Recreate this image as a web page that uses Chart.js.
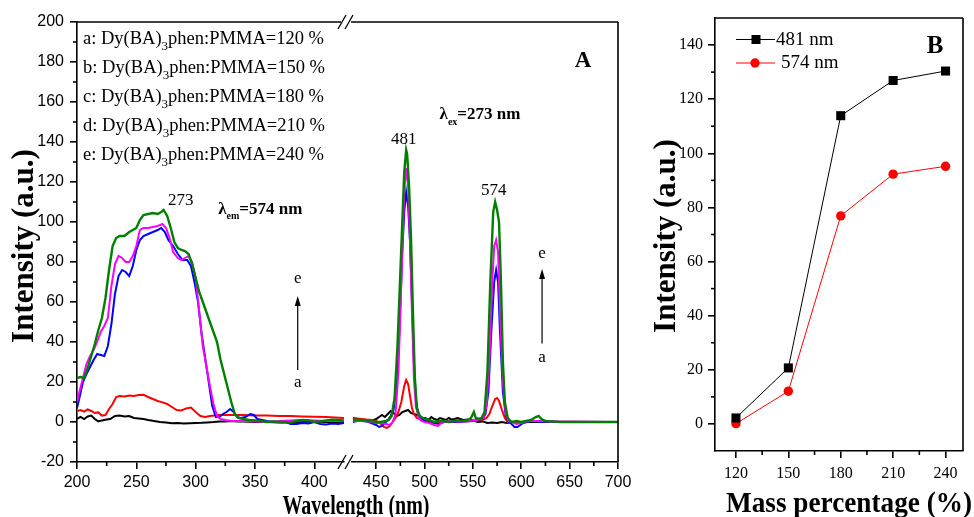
<!DOCTYPE html>
<html>
<head>
<meta charset="utf-8">
<script src="https://cdn.jsdelivr.net/npm/chart.js@4.4.0/dist/chart.umd.min.js"></script>
<style>
  html, body { margin: 0; padding: 0; background: #fff; }
  #wrap { position: relative; width: 974px; height: 517px; overflow: hidden; }
  canvas { position: absolute; top: 0; }
</style>
</head>
<body>
<div id="wrap">
  <canvas id="exc" width="640" height="517" style="left:0"></canvas>
  <canvas id="emi" width="300" height="517" style="left:340px"></canvas>
  <canvas id="mass" width="334" height="517" style="left:640px"></canvas>
</div>
<script>
// excitation spectra (λem = 574 nm), [wavelength nm, intensity a.u.]
const excA = [[200,1.5],[203,2.5],[206,1.5],[209,2.8],[212,3.2],[215,1.5],[218,0.3],[221,0.8],[225,1.2],[228,1.5],[232,3],[236,3.2],[240,2.8],[244,3],[248,2],[252,1.8],[256,1.5],[260,1],[265,0.5],[270,0],[275,-0.3],[280,-0.6],[285,-0.5],[290,-0.8],[295,-0.6],[300,-0.5],[305,-0.4],[310,-0.2],[315,0],[320,0.3],[325,0.2],[330,0.5],[335,0.3],[340,0.2],[350,0],[360,0],[370,-0.2],[380,-0.3],[390,0],[400,0.2],[410,0],[425,0]];
const excB = [[200,5.5],[203,6],[206,5.2],[209,6.3],[212,5.5],[215,4.5],[218,4.8],[221,3.2],[224,3.5],[227,6.5],[230,9],[233,12.5],[236,13],[240,12.8],[244,13.3],[248,13],[252,13.5],[256,13.6],[260,12.5],[264,11.5],[268,10.5],[272,9.8],[276,9],[280,7.5],[284,6],[288,5.8],[292,6.8],[296,7.2],[300,5],[304,3],[308,2.5],[312,3],[320,3.5],[330,3.5],[340,3.5],[350,3.3],[360,3.2],[370,3],[380,3],[390,2.8],[400,2.6],[410,2.5],[425,2]];
const excC = [[200,7],[202,12],[205,20],[208,24],[211,27.5],[214,31],[217,34],[220,33.5],[223,33],[226,38],[229,49],[232,64],[235,73],[238,76],[241,75],[244,73],[247,78],[250,86],[253,91],[256,93],[260,94],[264,95],[268,96],[271,97],[274,95],[277,91],[281,88],[285,84],[289,81],[293,81],[296,78],[299,70],[302,60],[305,44],[308,32],[311,20],[314,8],[317,2.5],[320,2.5],[323,4],[326,5],[329,6.5],[332,5],[335,2.5],[338,2],[342,2.5],[346,4],[349,3.5],[352,1.5],[356,1],[360,0.5],[365,0],[370,0],[375,0.3],[380,-1],[385,-1],[390,-0.5],[395,-0.8],[400,0],[405,-1],[410,-1.2],[415,-0.8],[420,-1],[425,-0.5]];
const excD = [[200,10],[202,15],[205,22],[208,29],[211,33],[214,36],[217,40],[220,45],[223,48],[226,52],[229,68],[232,79],[235,83],[238,82],[241,80],[244,80],[247,83],[250,88],[253,96],[256,97],[260,97],[264,97.5],[268,98],[272,99],[275,97],[278,92],[281,85],[285,82],[288,81],[291,82],[294,83],[297,80],[300,72],[303,55],[306,38],[309,28],[312,18],[315,9],[318,3],[321,1.5],[325,1],[330,0.5],[340,0.5],[350,0.2],[360,0],[370,0.5],[380,0.8],[390,1],[400,0.8],[410,0.5],[425,0.5]];
const excE = [[200,22],[203,22.5],[206,22],[209,27],[212,33],[215,39],[218,46],[221,52],[224,62],[227,76],[230,88],[233,92],[236,93],[240,93],[244,95],[247,96],[250,97],[253,101],[256,103.5],[260,104],[264,104.5],[268,104],[271,105],[273,106],[276,103],[279,97],[282,90],[285,87],[288,86],[291,85.5],[294,84],[297,79],[300,72],[303,65],[306,60],[309,55],[312,50],[315,45],[318,40],[321,31],[324,24],[327,17],[330,10],[333,4],[336,2],[340,1.5],[345,1],[350,0.8],[355,0.5],[360,0],[365,0.3],[370,0],[375,0],[380,-0.3],[385,0.5],[390,1],[395,0.8],[400,0],[405,0.3],[410,0.8],[415,1.2],[420,1],[425,0.8]];

// emission spectra (λex = 273 nm)
const emiA = [[426,2],[430,1.5],[435,1],[440,0.5],[445,0.5],[450,1.5],[453,2.5],[456,3.5],[459,2.5],[462,4],[465,5.5],[468,4.5],[471,3],[474,3.5],[477,5],[480,5.5],[483,6],[486,4.5],[489,4],[492,3.5],[495,3],[498,2],[501,2],[504,1],[507,2.5],[510,1.5],[513,1],[516,2],[519,1.5],[522,1],[525,2],[528,1.2],[531,1.5],[534,2],[537,1.5],[540,1],[545,1.2],[550,0.8],[555,0],[560,0.3],[565,-0.5],[570,-0.2],[575,-0.5],[580,0],[585,-0.5],[590,0],[600,0],[620,0],[650,0],[700,0]];
const emiB = [[426,2],[430,1.8],[435,1.5],[440,1.2],[445,1],[450,0.5],[455,-1],[458,-2.5],[461,-3],[464,-2],[467,0],[470,2],[473,5],[476,10],[479,18],[481,21],[483,19],[485,13],[487,7],[489,4],[492,2],[495,1.5],[500,0.5],[505,0],[510,-0.5],[515,0],[520,0.5],[530,0],[540,0.2],[550,0.5],[555,1],[560,1],[564,2],[567,4],[570,8],[573,11.5],[575,12],[577,10.5],[580,6],[583,2],[586,0],[590,0],[595,0],[600,0],[610,0.5],[620,0.5],[640,0],[660,0],[700,0]];
const emiC = [[426,0],[430,0.5],[435,0.5],[440,0.3],[445,-0.5],[450,-1.5],[453,-2.5],[456,-2],[459,-0.5],[462,1],[465,3],[468,6],[471,18],[474,45],[477,85],[479,105],[481,115],[483,108],[485,90],[487,60],[489,30],[491,12],[493,5],[496,2],[500,0.5],[505,0],[510,-0.5],[515,-1],[520,0],[530,0],[540,0.3],[550,0.5],[555,1],[560,1.5],[563,4],[566,15],[569,45],[572,70],[574,76],[576,70],[578,45],[581,15],[584,3],[587,0],[590,-1],[593,-2.5],[596,-2.5],[599,-1.5],[602,-0.5],[606,0],[610,0.5],[615,0.5],[620,0],[630,0.3],[640,0],[660,0],[680,0],[700,0]];
const emiD = [[426,0.5],[430,0.5],[435,0.5],[440,0.5],[445,0],[450,-0.5],[455,-0.5],[460,-1],[464,-1.5],[467,0],[470,4],[473,25],[476,70],[479,115],[481,127],[483,118],[485,90],[487,55],[489,22],[491,8],[494,2],[497,0.5],[500,0],[505,-0.5],[510,-1.5],[514,-2],[518,0],[525,0.5],[535,0.3],[545,0.5],[555,1],[561,2],[564,8],[567,30],[570,70],[572,88],[574,91],[576,85],[578,55],[581,20],[584,4],[587,0.5],[590,0],[595,-1],[600,-0.5],[605,0.3],[610,0.5],[620,0.5],[630,0.3],[650,0.3],[700,0]];
const emiE = [[426,1],[430,1.2],[435,1],[440,0.5],[445,0.5],[450,0],[455,0],[460,0.5],[463,1],[466,3],[469,12],[472,38],[475,75],[477,100],[479,125],[481,136],[482,134],[484,118],[486,92],[488,55],[490,22],[492,7],[495,3],[498,2],[501,1.5],[505,1],[510,0],[515,0.5],[520,0.5],[525,0],[530,0.5],[535,0.8],[540,0.5],[545,1],[548,2],[551,5],[553,2],[556,1.5],[559,2],[562,5],[565,25],[568,70],[571,105],[573,110],[575,106],[577,100],[579,70],[581,30],[583,10],[586,2],[590,0],[595,0.5],[600,0],[605,0.5],[610,1],[615,2.5],[618,3],[621,1.5],[625,0.5],[630,0.3],[640,0],[660,0],[680,0],[700,0]];

const sampleLabels = ['120', '150', '180', '210', '240'];
const seriesColors = ['#000000', '#ff0000', '#0000ff', '#ff00ff', '#008000'];

// panel B: peak intensities vs. mass percentage
const massPct = [120, 150, 180, 210, 240];
const peak481 = [2.2, 20.7, 113.9, 126.9, 130.4];
const peak574 = [0.1, 12.1, 76.9, 92.3, 95.2];

const intTicks = [-20, 0, 20, 40, 60, 80, 100, 120, 140, 160, 180, 200];
const intMinor = [-10, 10, 30, 50, 70, 90, 110, 130, 150, 170, 190];
const excTicks = [200, 250, 300, 350, 400];
const excMinor = [225, 275, 325, 375];
const emiTicks = [450, 500, 550, 600, 650, 700];
const emiMinor = [475, 525, 575, 625, 675];
const massTicks = [120, 150, 180, 210, 240];
const massMinor = [135, 165, 195, 225];
const peakTicks = [0, 20, 40, 60, 80, 100, 120, 140];
const peakMinor = [10, 30, 50, 70, 90, 110, 130];

const SANS = "'Liberation Sans', Arial, sans-serif";
const SERIF = "'Liberation Serif', 'Times New Roman', serif";
const AXIS_W = 1.6;

function toXY(pairs) { return pairs.map(([x, y]) => ({ x, y })); }

function spectra(list) {
  // green (e) gets the lowest order so it sits on top of the others
  return list.map((d, i) => ({
    label: sampleLabels[i],
    data: toXY(d),
    borderColor: seriesColors[i],
    borderWidth: i === 4 ? 2.4 : 2,
    pointRadius: 0,
    tension: 0,
    order: 4 - i
  }));
}

function fixedTicks(values) {
  return scale => { scale.ticks = values.map(v => ({ value: v })); };
}

function line(ctx, x0, y0, x1, y1) {
  ctx.beginPath(); ctx.moveTo(x0, y0); ctx.lineTo(x1, y1); ctx.stroke();
}

function minorX(ctx, scale, values, len) {
  values.forEach(v => { const px = scale.getPixelForValue(v); line(ctx, px, scale.top, px, scale.top + len); });
}
function minorY(ctx, scale, values, len) {
  values.forEach(v => { const py = scale.getPixelForValue(v); line(ctx, scale.right - len, py, scale.right, py); });
}

// text made of runs, each [text, font, baseline shift]
function rich(ctx, x, y, parts) {
  let cx = x;
  parts.forEach(([t, f, dy]) => {
    ctx.font = f;
    ctx.fillText(t, cx, y + (dy || 0));
    cx += ctx.measureText(t).width;
  });
}

function upArrow(ctx, x, yBottom, yTip) {
  ctx.lineWidth = 1.2;
  line(ctx, x, yBottom, x, yTip + 6);
  ctx.beginPath();
  ctx.moveTo(x, yTip); ctx.lineTo(x - 3, yTip + 10); ctx.lineTo(x + 3, yTip + 10);
  ctx.closePath(); ctx.fill();
}

function breakMark(ctx, cx, cy) {
  line(ctx, cx - 4, cy + 7, cx + 4, cy - 7);
}

function axisCfg(min, max, ticks, font, pad, extra) {
  return Object.assign({
    type: 'linear', min, max,
    afterBuildTicks: fixedTicks(ticks),
    grid: { drawOnChartArea: false, color: '#000', lineWidth: AXIS_W, tickLength: 7 },
    border: { color: '#000', width: AXIS_W },
    ticks: { color: '#000', font, padding: pad, maxRotation: 0, autoSkip: false }
  }, extra || {});
}

const excDecor = {
  id: 'excDecor',
  afterDraw(chart) {
    const { ctx, chartArea: a, scales: { x, y } } = chart;
    ctx.save();
    ctx.strokeStyle = '#000'; ctx.fillStyle = '#000'; ctx.lineWidth = AXIS_W;
    line(ctx, a.left, a.top, a.right - 3, a.top);
    minorX(ctx, x, excMinor, 4);
    minorY(ctx, y, intMinor, 4);
    ctx.lineWidth = 1.3;
    breakMark(ctx, a.right - 2, a.top);
    breakMark(ctx, a.right + 5, a.top);
    breakMark(ctx, a.right - 2, a.bottom);
    breakMark(ctx, a.right + 5, a.bottom);

    ctx.textAlign = 'left'; ctx.textBaseline = 'alphabetic';
    const f = '18.5px ' + SERIF, fs = '13px ' + SERIF;
    ['a', 'b', 'c', 'd', 'e'].forEach((k, i) => {
      rich(ctx, a.left + 6, 43.5 + i * 29.2, [
        [k + ': Dy(BA)', f], ['3', fs, 6], ['phen:PMMA=' + sampleLabels[i] + ' %', f]
      ]);
    });

    ctx.textAlign = 'center';
    ctx.font = '17px ' + SERIF;
    ctx.fillText('273', x.getPixelForValue(287.5), y.getPixelForValue(108.3));

    ctx.textAlign = 'left';
    rich(ctx, x.getPixelForValue(319), y.getPixelForValue(104.2), [
      ['\u03bb', 'bold 17px ' + SERIF], ['em', 'bold 10px ' + SERIF, 5], ['=574 nm', 'bold 17px ' + SERIF]
    ]);

    const ax = x.getPixelForValue(386);
    upArrow(ctx, ax, y.getPixelForValue(26), y.getPixelForValue(63));
    ctx.textAlign = 'center'; ctx.font = '17px ' + SERIF;
    ctx.fillText('e', ax, y.getPixelForValue(69.3));
    ctx.fillText('a', ax, y.getPixelForValue(17.5));

    // axis titles of panel A
    ctx.font = 'bold 27px ' + SERIF;
    ctx.fillText('Wavelength (nm)', 356, 514, 147);
    ctx.save();
    ctx.translate(33, 246);
    ctx.rotate(-Math.PI / 2);
    ctx.font = 'bold 31px ' + SERIF;
    ctx.fillText('Intensity (a.u.)', 0, 0, 197);
    ctx.restore();
    ctx.restore();
  }
};

const emiDecor = {
  id: 'emiDecor',
  afterDraw(chart) {
    const { ctx, chartArea: a, scales: { x, y } } = chart;
    ctx.save();
    ctx.strokeStyle = '#000'; ctx.fillStyle = '#000'; ctx.lineWidth = AXIS_W;
    line(ctx, a.left - 1, a.top, a.right, a.top);
    line(ctx, a.right, a.top, a.right, a.bottom);
    minorX(ctx, x, emiMinor, 4);

    ctx.textAlign = 'center'; ctx.textBaseline = 'alphabetic';
    ctx.font = 'bold 23px ' + SERIF;
    ctx.fillText('A', a.right - 35, a.top + 45);

    ctx.textAlign = 'left';
    rich(ctx, x.getPixelForValue(515.5), y.getPixelForValue(151.7), [
      ['\u03bb', 'bold 17px ' + SERIF], ['ex', 'bold 10px ' + SERIF, 6], ['=273 nm', 'bold 17px ' + SERIF]
    ]);

    ctx.textAlign = 'center'; ctx.font = '17px ' + SERIF;
    ctx.fillText('481', x.getPixelForValue(478.5), y.getPixelForValue(139.2));
    ctx.fillText('574', x.getPixelForValue(571.5), y.getPixelForValue(113.3));

    const ax = x.getPixelForValue(621.5);
    upArrow(ctx, ax, y.getPixelForValue(39.3), y.getPixelForValue(76.5));
    ctx.fillText('e', ax, y.getPixelForValue(81.8));
    ctx.fillText('a', ax, y.getPixelForValue(30));
    ctx.restore();
  }
};

const massDecor = {
  id: 'massDecor',
  afterDraw(chart) {
    const { ctx, chartArea: a, scales: { x, y } } = chart;
    ctx.save();
    ctx.strokeStyle = '#000'; ctx.fillStyle = '#000'; ctx.lineWidth = AXIS_W;
    line(ctx, a.left, a.top, a.right, a.top);
    line(ctx, a.right, a.top, a.right, a.bottom);
    minorX(ctx, x, massMinor, 4);
    minorY(ctx, y, peakMinor, 4);

    // legend
    const rows = [[39.5, 45], [63, 68.3]];
    chart.data.datasets.forEach((ds, i) => {
      const [ly, tb] = rows[i];
      ctx.strokeStyle = ds.borderColor; ctx.lineWidth = 1;
      line(ctx, a.left + 21, ly, a.left + 60, ly);
      ctx.fillStyle = ds.backgroundColor;
      if (ds.pointStyle === 'rect') ctx.fillRect(a.left + 36.5, ly - 4.5, 9, 9);
      else { ctx.beginPath(); ctx.arc(a.left + 40, ly, 4.7, 0, Math.PI * 2); ctx.fill(); }
      ctx.fillStyle = '#000';
      ctx.font = '19px ' + SERIF; ctx.textAlign = 'left';
      ctx.fillText(ds.label, a.left + (i === 0 ? 61 : 66), tb);
    });

    ctx.textAlign = 'center';
    ctx.font = 'bold 25px ' + SERIF;
    ctx.fillText('B', a.right - 28, a.top + 35);

    ctx.font = 'bold 29px ' + SERIF;
    ctx.fillText('Mass percentage (%)', 209, 511.5, 246);
    ctx.save();
    ctx.translate(35, 236);
    ctx.rotate(-Math.PI / 2);
    ctx.font = 'bold 31px ' + SERIF;
    ctx.fillText('Intensity (a.u.)', 0, 0);
    ctx.restore();
    ctx.restore();
  }
};

const common = {
  responsive: false,
  animation: false,
  events: [],
  plugins: { legend: { display: false }, tooltip: { enabled: false } }
};

new Chart(document.getElementById('exc'), {
  type: 'line',
  data: { datasets: spectra([excA, excB, excC, excD, excE]) },
  options: Object.assign({}, common, {
    layout: { padding: { left: 0, top: 22, right: 296, bottom: 0 } },
    scales: {
      x: axisCfg(200, 425, excTicks, { family: SANS, size: 16 }, 4, { afterFit: s => { s.height = 55; } }),
      y: axisCfg(-20, 200, intTicks, { family: SANS, size: 16 }, 6, { afterFit: s => { s.width = 77; } })
    }
  }),
  plugins: [excDecor]
});

new Chart(document.getElementById('emi'), {
  type: 'line',
  data: { datasets: spectra([emiA, emiB, emiC, emiD, emiE]) },
  options: Object.assign({}, common, {
    layout: { padding: { left: 12, top: 22, right: 22, bottom: 0 } },
    scales: {
      x: axisCfg(425, 700, emiTicks, { family: SANS, size: 16 }, 4, { afterFit: s => { s.height = 55; } }),
      y: { type: 'linear', min: -20, max: 200, display: false }
    }
  }),
  plugins: [emiDecor]
});

new Chart(document.getElementById('mass'), {
  type: 'line',
  data: {
    datasets: [
      { label: '481 nm', data: massPct.map((m, i) => ({ x: m, y: peak481[i] })), borderColor: '#000', backgroundColor: '#000',
        borderWidth: 1, pointStyle: 'rect', pointRadius: 6.4, pointBorderWidth: 0, tension: 0 },
      { label: '574 nm', data: massPct.map((m, i) => ({ x: m, y: peak574[i] })), borderColor: '#ff0000', backgroundColor: '#ff0000',
        borderWidth: 1, pointStyle: 'circle', pointRadius: 4.7, pointBorderWidth: 0, tension: 0 }
    ]
  },
  options: Object.assign({}, common, {
    layout: { padding: { left: 0, top: 18, right: 11, bottom: 0 } },
    scales: {
      x: axisCfg(108, 250, massTicks, { family: SERIF, size: 16 }, 6, { afterFit: s => { s.height = 66; } }),
      y: axisCfg(-10, 150, peakTicks, { family: SERIF, size: 16 }, 5, { afterFit: s => { s.width = 75; } })
    }
  }),
  plugins: [massDecor]
});
</script>
</body>
</html>
